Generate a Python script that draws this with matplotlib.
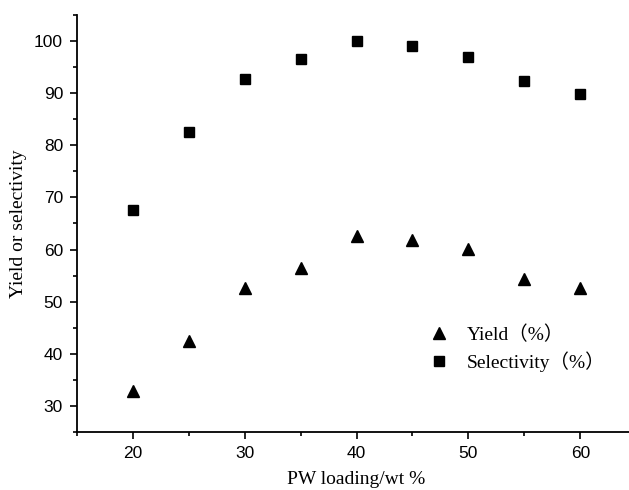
import numpy as np
import matplotlib.pyplot as plt
from matplotlib.ticker import MultipleLocator

# PW loading (wt %) and catalytic results
loading = [20, 25, 30, 35, 40, 45, 50, 55, 60]
yield_pct = [32.9, 42.4, 52.6, 56.4, 62.6, 61.9, 60.2, 54.4, 52.6]
selectivity = [67.5, 82.5, 92.8, 96.5, 100.0, 99.1, 96.9, 92.4, 89.8]

serif = ['Liberation Serif', 'Noto Sans CJK SC']
plt.rcParams['font.family'] = ['Liberation Sans', 'DejaVu Sans']

fig = plt.figure(figsize=(6.29, 4.90), dpi=100)
ax = fig.add_axes([0.1224, 0.1184, 0.889, 0.851])

ax.plot(loading, yield_pct, linestyle='none', marker='^', markersize=9,
        color='k', label='Yield（%）')
ax.plot(loading, selectivity, linestyle='none', marker='s', markersize=6.5,
        color='k', label='Selectivity（%）')

ax.set_xlim(15, 65)
ax.set_ylim(25, 105)
ax.xaxis.set_major_locator(MultipleLocator(10))
ax.xaxis.set_minor_locator(MultipleLocator(5))
ax.yaxis.set_major_locator(MultipleLocator(10))
ax.yaxis.set_minor_locator(MultipleLocator(5))
ax.set_yticks([30, 40, 50, 60, 70, 80, 90, 100])

ax.spines['top'].set_visible(False)
ax.spines['right'].set_visible(False)
for s in ('left', 'bottom'):
    ax.spines[s].set_linewidth(1.3)
ax.tick_params(which='major', direction='out', length=5, width=1.2,
               labelsize=12.5, pad=5)
ax.tick_params(which='minor', direction='out', length=3, width=1.2)

# x label sits right at the bottom edge of the figure
ax.set_xlabel('PW loading/wt %', family=serif, fontsize=14, labelpad=7)
ax.set_ylabel('Yield or selectivity', family=serif, fontsize=14, labelpad=5)

ax.legend(loc='upper left', bbox_to_anchor=(0.59, 0.298), frameon=False,
          prop={'family': serif, 'size': 14}, handletextpad=0.7,
          labelspacing=0.4, handlelength=1.5)

fig.savefig('out.png', dpi=100)
